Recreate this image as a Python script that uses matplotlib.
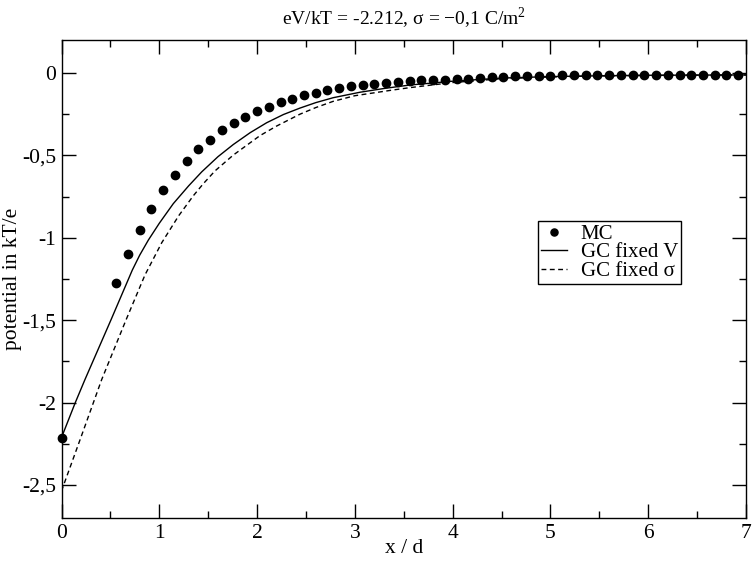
import matplotlib
matplotlib.use("Agg")
from matplotlib import pyplot as plt
import numpy as np

plt.rcParams['font.family'] = ['Liberation Serif', 'DejaVu Serif']
plt.rcParams['mathtext.fontset'] = 'custom'
plt.rcParams['mathtext.rm'] = 'Liberation Serif'

# MC data: first point at the wall, then bins every 0.12 d
mc_x0 = 0.0
mc_y0 = -2.212
mc_start = 0.56
mc_step = 0.12
mc_y = [-1.274, -1.099, -0.952, -0.823, -0.713, -0.617, -0.536, -0.464, -0.404, -0.348,
        -0.304, -0.268, -0.232, -0.204, -0.178, -0.155, -0.135, -0.119, -0.106, -0.092,
        -0.080, -0.072, -0.064, -0.058, -0.052, -0.048, -0.044, -0.042, -0.040, -0.036,
        -0.034, -0.028, -0.024, -0.022, -0.020, -0.018, -0.016, -0.016, -0.014, -0.014,
        -0.014, -0.014, -0.014, -0.014, -0.014, -0.014, -0.014, -0.014, -0.012, -0.012,
        -0.012, -0.012, -0.012, -0.012]

# Gouy-Chapman, fixed potential
gcv_x = [0.0, 0.141, 0.240, 0.506, 0.724, 0.80, 0.888, 1.0, 1.143, 1.3, 1.434, 1.6,
         1.757, 1.93, 2.098, 2.27, 2.439, 2.6, 2.779, 3.052, 3.3, 3.563, 4.0, 4.5,
         5.0, 5.5, 6.0, 6.5, 7.0]
gcv_y = [-2.212, -2.0, -1.86, -1.498, -1.196, -1.105, -1.014, -0.912, -0.793, -0.685,
         -0.600, -0.508, -0.434, -0.362, -0.302, -0.252, -0.213, -0.180, -0.150, -0.117,
         -0.094, -0.073, -0.050, -0.031, -0.022, -0.017, -0.014, -0.013, -0.012]

# Gouy-Chapman, fixed charge
gcs_x = [0.0, 0.199, 0.411, 0.660, 0.854, 1.025, 1.2, 1.348, 1.45, 1.570, 1.757,
         2.030, 2.2, 2.439, 2.6, 2.779, 3.0, 3.393, 3.563, 4.0, 4.5, 5.0, 5.5, 6.0,
         6.5, 7.0]
gcs_y = [-2.536, -2.21, -1.86, -1.498, -1.225, -1.030, -0.865, -0.745, -0.672, -0.594,
         -0.498, -0.380, -0.322, -0.250, -0.210, -0.172, -0.138, -0.103, -0.089, -0.058,
         -0.035, -0.024, -0.018, -0.015, -0.013, -0.012]

ytick_vals = [0, -0.5, -1, -1.5, -2, -2.5]
ytick_labels = ["0", "-0,5", "-1", "-1,5", "-2", "-2,5"]

mc_x = [mc_x0] + [mc_start + mc_step * k for k in range(len(mc_y))]
mc_all = [mc_y0] + mc_y

fig = plt.figure(figsize=(7.52, 5.62), dpi=100)
ax = fig.add_axes([61.5 / 752, 1 - 518 / 562, (746 - 61.5) / 752, (518 - 40) / 562])

ax.plot(gcv_x, gcv_y, color='black', lw=1.0, label='GC fixed V', zorder=2)
ax.plot(gcs_x, gcs_y, color='black', lw=1.0, dashes=(3.5, 2.5), label='GC fixed σ', zorder=2)
ax.plot(mc_x, mc_all, 'o', color='black', ms=6.0, label='MC', zorder=3, clip_on=False)

ax.set_xlim(0, 7)
ax.set_ylim(-2.7, 0.2)
ax.set_xticks(range(8))
ax.set_xticks(np.arange(0.5, 7, 1), minor=True)
ax.set_yticks(ytick_vals)
ax.set_yticklabels(ytick_labels)
ax.set_yticks([-0.25, -0.75, -1.25, -1.75, -2.25], minor=True)
ax.tick_params(which='both', direction='in', top=True, right=True, labelsize=15.5, width=1.0)
ax.tick_params(which='major', length=10, pad=4)
ax.tick_params(which='minor', length=5)
for s in ax.spines.values():
    s.set_linewidth(1.0)

ax.set_xlabel('x / d', fontsize=15.5)
ax.set_ylabel('potential in kT/e', fontsize=15.5)
ax.xaxis.set_label_coords(0.5, -0.044)
ax.yaxis.set_label_coords(-0.058, 0.5)
ax.set_title('eV/kT = -2.212, σ = −0,1 C/m$^2$', fontsize=14, pad=11)

handles, labels = ax.get_legend_handles_labels()
order = [2, 0, 1]
leg = ax.legend([handles[i] for i in order], [labels[i] for i in order],
                loc='upper left', bbox_to_anchor=(0.696, 0.621), fontsize=15,
                frameon=True, fancybox=False, framealpha=1, edgecolor='black',
                handlelength=1.25, handletextpad=0.65, labelspacing=-0.05,
                borderpad=0.15, borderaxespad=0, markerscale=0.85)
leg.get_frame().set_linewidth(1.0)

fig.savefig('out.png', dpi=100)
